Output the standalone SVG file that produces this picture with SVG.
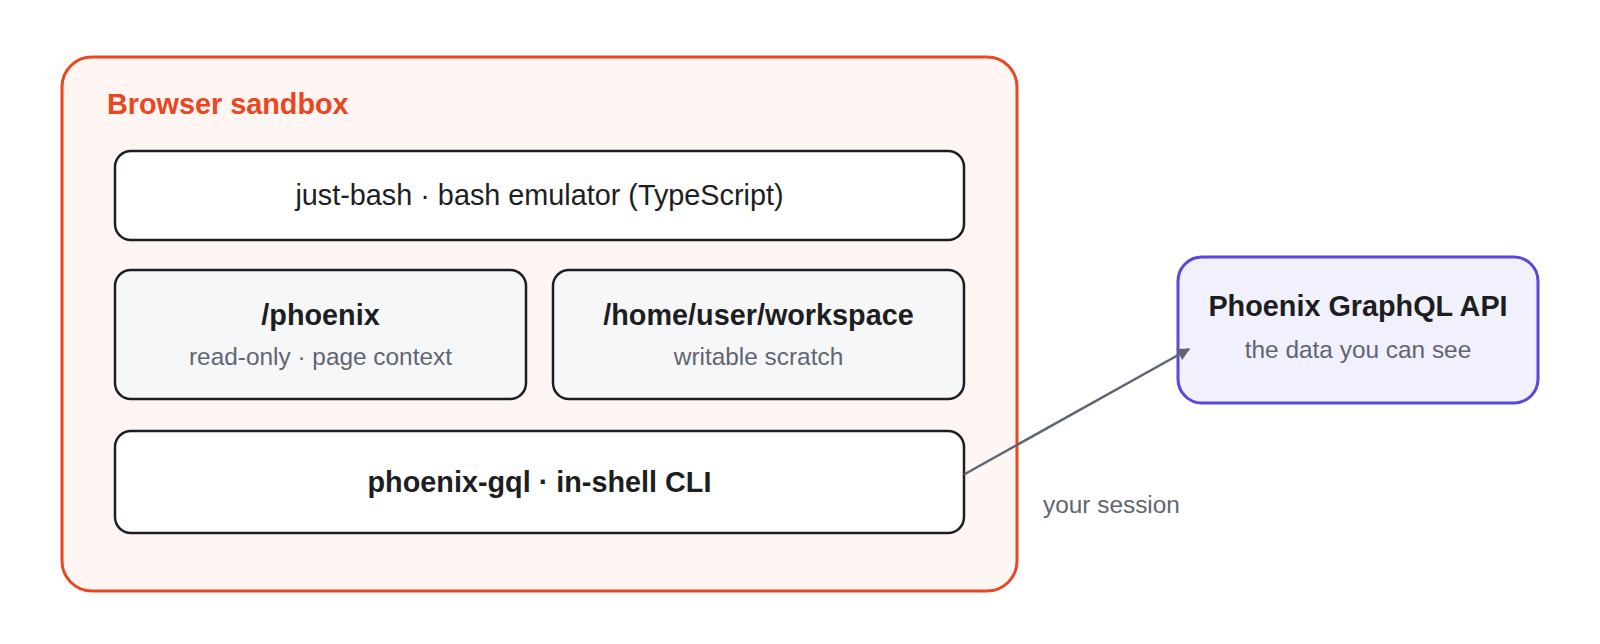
<svg xmlns="http://www.w3.org/2000/svg" width="1600" height="644" viewBox="0 0 1600 644">
  <style>
    text { font-family: "Liberation Sans", Arial, Helvetica, sans-serif; }
    .group-box { fill: #fff5f2; stroke: #e8471f; stroke-width: 3; }
    .group-label { font-size: 28.8px; font-weight: bold; fill: #e8471f; }
    .box { fill: #ffffff; stroke: #1d1e22; stroke-width: 2.5; }
    .box-alt { fill: #f6f7f9; stroke: #1d1e22; stroke-width: 2.5; }
    .api-box { fill: #f1f0fd; stroke: #5a47de; stroke-width: 3; }
    .title { font-size: 28.8px; font-weight: bold; fill: #1d1e22; text-anchor: middle; }
    .plain { font-size: 28.8px; fill: #1d1e22; text-anchor: middle; }
    .sub { font-size: 24.4px; fill: #5f6672; text-anchor: middle; }
    .edge { fill: none; stroke: #5f6672; stroke-width: 2.5; }
    .edge-label { font-size: 24.4px; fill: #5f6672; }
  </style>
  <defs>
    <marker id="arrow" viewBox="0 0 10 10" refX="9" refY="5" markerWidth="5" markerHeight="5" orient="auto" markerUnits="strokeWidth">
      <path d="M0,0 L10,5 L0,10 z" fill="#5f6672"/>
    </marker>
  </defs>

  <g id="browser-sandbox">
    <rect class="group-box" x="62" y="57" width="955" height="534" rx="30" ry="30"/>
    <text class="group-label" x="107" y="113.5">Browser sandbox</text>
  </g>

  <g id="just-bash">
    <rect class="box" x="115" y="151" width="849" height="89" rx="16" ry="16"/>
    <text class="plain" x="539.5" y="205">just-bash · bash emulator (TypeScript)</text>
  </g>

  <g id="phoenix-dir">
    <rect class="box-alt" x="115" y="270" width="411" height="129" rx="16" ry="16"/>
    <text class="title" x="320.5" y="324.5">/phoenix</text>
    <text class="sub" x="320.5" y="365">read-only · page context</text>
  </g>

  <g id="workspace-dir">
    <rect class="box-alt" x="553" y="270" width="411" height="129" rx="16" ry="16"/>
    <text class="title" x="758.5" y="324.5">/home/user/workspace</text>
    <text class="sub" x="758.5" y="365">writable scratch</text>
  </g>

  <g id="phoenix-gql">
    <rect class="box" x="115" y="431" width="849" height="102" rx="16" ry="16"/>
    <text class="title" x="539.5" y="491.5">phoenix-gql · in-shell CLI</text>
  </g>

  <g id="graphql-api">
    <rect class="api-box" x="1178" y="257" width="360" height="146" rx="24" ry="24"/>
    <text class="title" x="1358" y="316">Phoenix GraphQL API</text>
    <text class="sub" x="1358" y="358">the data you can see</text>
  </g>

  <g id="connectors">
    <path class="edge" d="M964,474.5 L1189,349" marker-end="url(#arrow)"/>
    <text class="edge-label" x="1043" y="513">your session</text>
  </g>
</svg>
